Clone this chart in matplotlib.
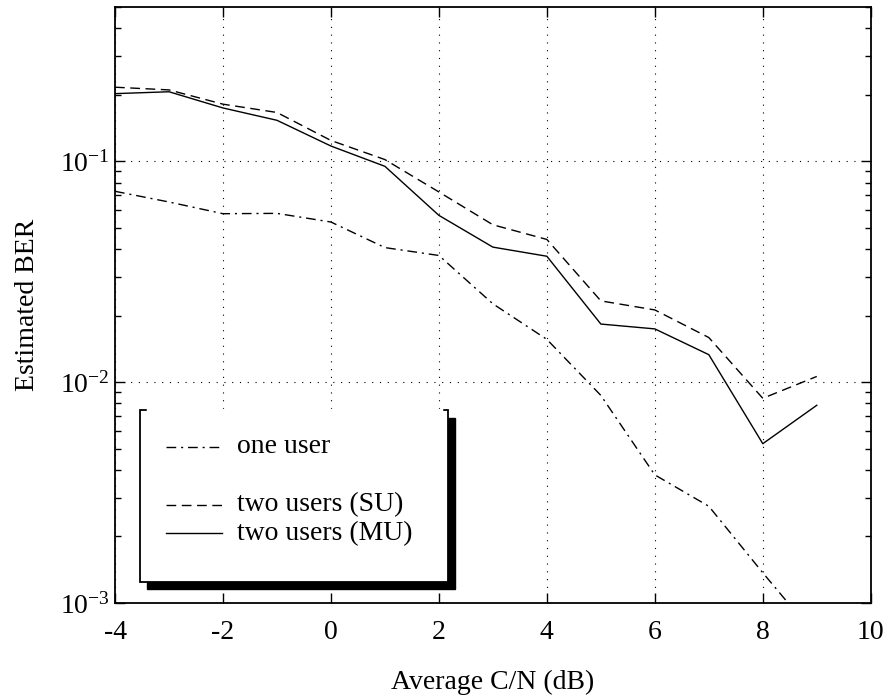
import numpy as np
import matplotlib
matplotlib.use("Agg")
import matplotlib.pyplot as plt
from matplotlib.patches import Rectangle
from matplotlib.lines import Line2D

plt.rcParams['font.family'] = ['Liberation Serif', 'DejaVu Serif']
plt.rcParams['mathtext.fontset'] = 'custom'
plt.rcParams['mathtext.rm'] = 'Liberation Serif'
plt.rcParams['mathtext.it'] = 'Liberation Serif:italic'
plt.rcParams['axes.unicode_minus'] = False
plt.rcParams['font.size'] = 20

# data
cn_db = [-4, -3, -2, -1, 0, 1, 2, 3, 4, 5, 6, 7, 8, 9]
ber_one = [0.073, 0.0653, 0.0578, 0.058, 0.053, 0.0406, 0.0374, 0.0226,
           0.0156, 0.0087, 0.0038, 0.00274, 0.00137, 0.0007]
ber_su = [0.216, 0.210, 0.181, 0.166, 0.124, 0.1016, 0.0725, 0.0515,
          0.0442, 0.0233, 0.0212, 0.0159, 0.00844, 0.0106]
ber_mu = [0.202, 0.206, 0.174, 0.153, 0.117, 0.0947, 0.0568, 0.0408,
          0.0371, 0.0183, 0.0174, 0.0133, 0.00526, 0.00785]
labels = ['one user', 'two users (SU)', 'two users (MU)']

dashdot = (0, (7, 3.5, 1.5, 3.5))
dashed = (0, (7, 4))
styles = [dashdot, dashed, '-']

fig = plt.figure(figsize=(8.86, 6.95), dpi=100)
ax = fig.add_axes([0.1298, 0.1324, 0.853, 0.858])

for ys, ls in zip([ber_one, ber_su, ber_mu], styles):
    ax.plot(cn_db, ys, color='black', linestyle=ls, linewidth=1.0)

ax.set_yscale('log')
ax.set_xlim(-4, 10)
ax.set_ylim(1e-3, 0.5)
ax.set_xticks(np.arange(-4, 11, 2))
ax.set_yticks([1e-3, 1e-2, 1e-1])
ax.grid(True, which='major', color='black', linestyle=(0, (1, 6)), linewidth=0.8)
ax.tick_params(which='both', direction='in', top=True, right=True, labelsize=20)
ax.tick_params(which='major', length=7, width=1)
ax.tick_params(which='minor', length=4, width=1)
ax.tick_params(axis='x', pad=12)
ax.tick_params(axis='y', pad=4)
for sp in ax.spines.values():
    sp.set_linewidth(1.3)

ax.set_xlabel('Average C/N (dB)', fontsize=20, labelpad=18)
ax.set_ylabel('Estimated BER', fontsize=20, labelpad=14)

# legend box in MATLAB style with black shadow
x0, y0, w, h = 0.033, 0.035, 0.408, 0.288
dx, dy = 0.009, -0.012
ax.add_patch(Rectangle((x0 + dx, y0 + dy), w, h, transform=ax.transAxes,
                       facecolor='black', edgecolor='black', zorder=5))
ax.add_patch(Rectangle((x0, y0), w, h, transform=ax.transAxes,
                       facecolor='white', edgecolor='black', linewidth=1.3, zorder=6))
# top edge is mostly hidden, only the corners remain
ax.add_line(Line2D([x0 + 0.01, x0 + w - 0.01], [y0 + h, y0 + h], transform=ax.transAxes,
                   color='white', linewidth=2.5, zorder=7))

rows = [y0 + 0.227, y0 + 0.130, y0 + 0.082]
for lab, ls, ry in zip(labels, styles, rows):
    ax.add_line(Line2D([x0 + 0.034, x0 + 0.109], [ry, ry], transform=ax.transAxes,
                       color='black', linestyle=ls, linewidth=1.0, zorder=8))
    ax.text(x0 + 0.128, ry, lab, transform=ax.transAxes, fontsize=20,
            va='center', ha='left', zorder=8)

fig.savefig('out.png', dpi=100)
